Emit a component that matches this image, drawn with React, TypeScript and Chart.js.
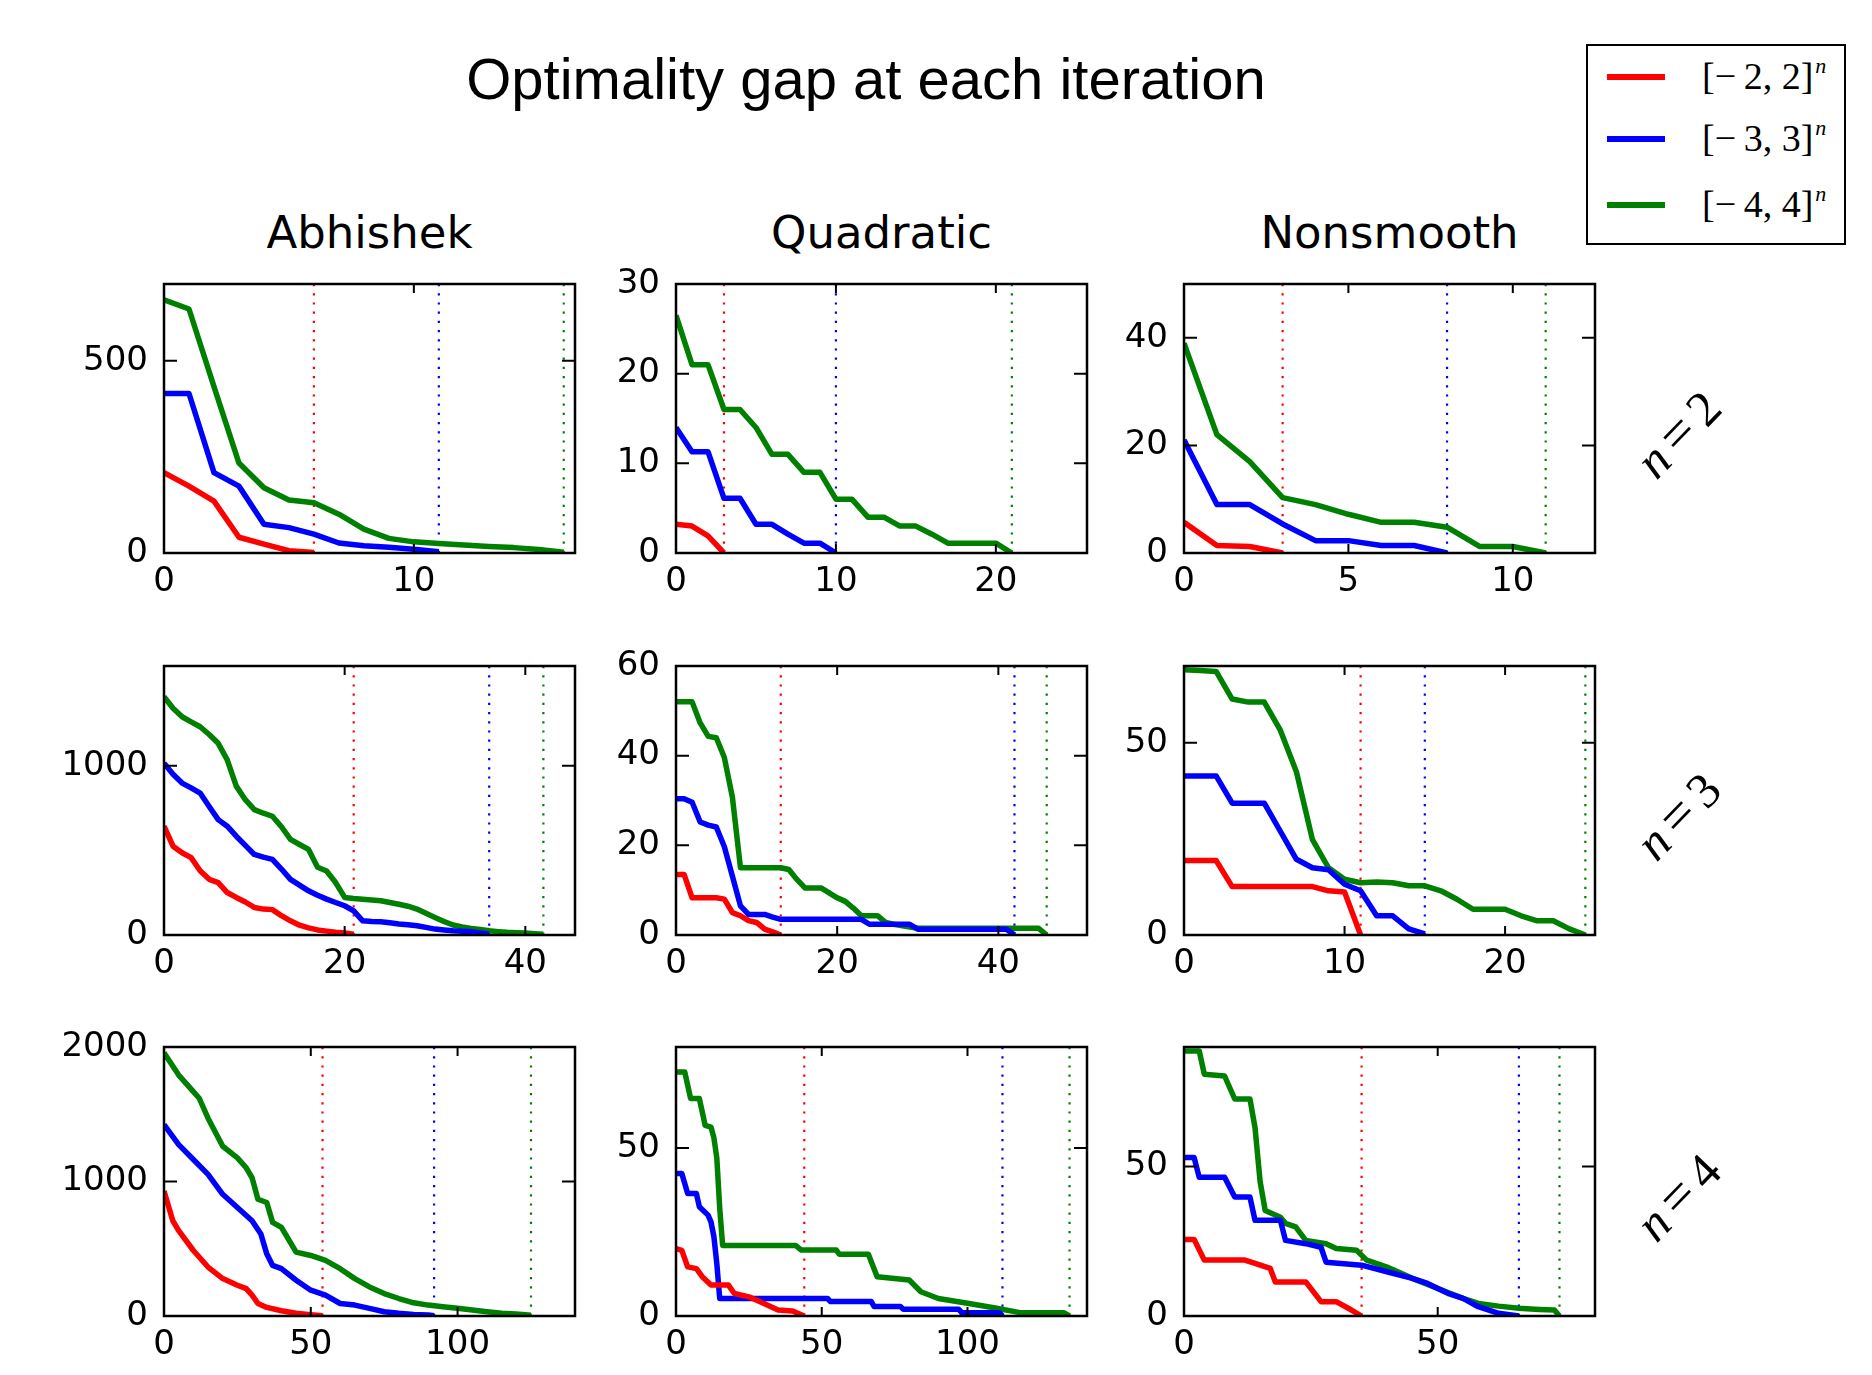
import React, { useEffect, useRef } from 'react';
import { Chart, registerables } from 'chart.js';

Chart.register(...registerables);

// ================= DATA =================
const figureTitle = 'Optimality gap at each iteration';
const columnTitles = ['Abhishek', 'Quadratic', 'Nonsmooth'];
const dimensions = ['2', '3', '4'];
const boxLabels = ['[\u2212\u20092, 2]', '[\u2212\u20093, 3]', '[\u2212\u20094, 4]'];

// A series is either y values per iteration (0,1,2,...) or [iteration, gap] pairs.
// Stops: iteration where each box size terminates (dotted verticals), order: [-2,2], [-3,3], [-4,4]

// ---- Abhishek, n = 2
const abh2Red = [209, 174, 135, 41, 23, 6, 1];
const abh2Blue = [415, 415, 209, 174, 75, 66, 49, 26, 19, 15, 10, 3];
const abh2Green = [659, 635, 433, 234, 170, 138, 131, 101, 62, 38, 29, 25, 21, 17, 14, 9, 2];
const abh2Stops = [6, 11, 16];
const abh2Range = [16.45, 700];
const abh2XTicks = [0, 10];
const abh2YTicks = [0, 500];

// ---- Quadratic, n = 2
const quad2Red = [3.2, 3.0, 1.9, 0];
const quad2Blue = [14, 11.3, 11.3, 6.1, 6.1, 3.2, 3.2, 2.1, 1.1, 1.1, 0];
const quad2Green = [26.5, 21, 21, 16, 16, 14, 11, 11, 9, 9, 6, 6, 4, 4, 3, 3, 2.1, 1.1, 1.1, 1.1, 1.1, 0];
const quad2Stops = [3, 10, 21];
const quad2Range = [25.7, 30];
const quad2XTicks = [0, 10, 20];
const quad2YTicks = [0, 10, 20, 30];

// ---- Nonsmooth, n = 2
const non2Red = [5.7, 1.4, 1.2, 0];
const non2Blue = [21, 9, 9, 5.4, 2.3, 2.3, 1.4, 1.4, 0];
const non2Green = [39, 22, 17, 10.3, 9, 7.2, 5.7, 5.7, 4.8, 1.2, 1.2, 0];
const non2Stops = [3, 8, 11];
const non2Range = [12.5, 50];
const non2XTicks = [0, 5, 10];
const non2YTicks = [0, 20, 40];

// ---- Abhishek, n = 3
const abh3Red = [643, 525, 486, 457, 380, 329, 310, 251, 222, 195, 163, 153, 150, 114, 84, 58, 42, 30, 23, 16, 12, 5];
const abh3Blue = [1016, 950, 898, 870, 839, 760, 682, 643, 584, 530, 476, 460, 447, 390, 329, 295, 261, 235, 212, 192, 173, 143, 84, 80, 78, 72, 65, 60, 55, 45, 35, 30, 25, 22, 20, 12, 6];
const abh3Green = [1408, 1340, 1290, 1260, 1231, 1185, 1133, 1035, 880, 800, 741, 720, 702, 640, 565, 535, 506, 400, 378, 310, 222, 216, 212, 207, 202, 192, 182, 170, 153, 128, 104, 80, 59, 48, 39, 32, 25, 20, 16, 14, 12, 8, 4];
const abh3Stops = [21, 36, 42];
const abh3Range = [45.5, 1590];
const abh3XTicks = [0, 20, 40];
const abh3YTicks = [0, 1000];

// ---- Quadratic, n = 3
const quad3Red = [[0, 13.5], [1, 13.5], [2, 8.3], [5, 8.3], [6, 8.0], [7, 5], [8, 4.3], [9, 3.2], [10, 2.8], [11, 1.3], [12, 0.7], [13, 0]];
const quad3Blue = [[0, 30.4], [1, 30.4], [2, 29.6], [3, 25.2], [4, 24.5], [5, 24.1], [6, 19.7], [7, 13.1], [8, 6.5], [9, 4.6], [11, 4.6], [12, 4.0], [13, 3.5], [23, 3.5], [24, 2.4], [29, 2.4], [30, 1.3], [41, 1.3], [42, 0]];
const quad3Green = [[0, 52], [2, 52], [3, 47.3], [4, 44.3], [5, 44], [6, 39.6], [7, 30.7], [8, 15], [13, 15], [14, 14.6], [15, 12.4], [16, 10.5], [18, 10.5], [19, 9.4], [20, 8.3], [21, 7.5], [22, 6], [23, 4.3], [25, 4.3], [26, 2.8], [27, 2.4], [30, 1.5], [45, 1.5], [46, 0]];
const quad3Stops = [13, 42, 46];
const quad3Range = [51, 60];
const quad3XTicks = [0, 20, 40];
const quad3YTicks = [0, 20, 40, 60];

// ---- Nonsmooth, n = 3
const non3Red = [[0, 19.4], [2, 19.4], [3, 12.6], [8, 12.6], [9, 11.5], [10, 11.2], [11, 0]];
const non3Blue = [[0, 41.4], [2, 41.4], [3, 34.3], [5, 34.3], [6, 27], [7, 19.7], [8, 17.5], [9, 17], [10, 13.2], [11, 11.5], [12, 5], [13, 5], [14, 1.6], [15, 0.3]];
const non3Green = [[0, 69], [1, 68.8], [2, 68.6], [3, 61.4], [4, 60.6], [5, 60.6], [6, 53.3], [7, 42.5], [8, 24.8], [9, 17.5], [10, 14.5], [11, 13.6], [12, 13.8], [13, 13.6], [14, 12.8], [15, 12.8], [16, 11.5], [17, 9.3], [18, 6.7], [20, 6.7], [21, 5], [22, 3.7], [23, 3.7], [24, 1.6], [25, 0]];
const non3Stops = [11, 15, 25];
const non3Range = [25.6, 70];
const non3XTicks = [0, 10, 20];
const non3YTicks = [0, 50];

// ---- Abhishek, n = 4
const abh4Red = [[0, 930], [3, 708], [5, 635], [10, 487], [15, 364], [20, 278], [25, 229], [28, 204], [30, 155], [32, 93], [35, 64], [40, 39], [45, 20], [50, 10], [54, 2]];
const abh4Blue = [[0, 1422], [5, 1274], [10, 1164], [15, 1053], [20, 905], [25, 807], [30, 708], [33, 610], [35, 462], [37, 376], [40, 352], [45, 266], [50, 192], [55, 155], [60, 93], [65, 81], [70, 57], [75, 32], [80, 20], [85, 12], [90, 7], [92, 2]];
const abh4Green = [[0, 1958], [5, 1791], [10, 1668], [12, 1619], [15, 1471], [20, 1262], [25, 1176], [28, 1102], [30, 1028], [32, 868], [35, 844], [37, 696], [40, 659], [45, 475], [50, 450], [55, 413], [60, 352], [65, 278], [70, 216], [75, 167], [80, 130], [85, 98], [90, 81], [95, 69], [100, 57], [105, 44], [110, 32], [115, 20], [120, 15], [125, 5]];
const abh4Stops = [54, 92, 125];
const abh4Range = [140, 2000];
const abh4XTicks = [0, 50, 100];
const abh4YTicks = [0, 1000, 2000];

// ---- Quadratic, n = 4
const quad4Red = [[0, 20], [2, 19.5], [4, 14.6], [7, 14.1], [9, 11.7], [12, 9.2], [18, 9.2], [20, 6.7], [25, 5.7], [30, 3.8], [35, 1.8], [40, 1.5], [44, 0]];
const quad4Blue = [[0, 42.4], [2, 42.4], [4, 36.4], [7, 36.4], [8, 32.5], [11, 30], [12, 28], [13, 23.6], [14, 15.6], [15, 5.2], [52, 5.2], [53, 4.3], [67, 4.3], [68, 2.8], [77, 2.8], [78, 2], [97, 2], [98, 1], [111, 1], [112, 0]];
const quad4Green = [[0, 72.6], [3, 72.6], [5, 64.7], [8, 64.7], [10, 56.7], [12, 56.2], [13, 53], [14, 47], [15, 32], [16, 21], [41, 21], [43, 19.6], [55, 19.6], [56, 18.4], [66, 18.4], [69, 11.7], [80, 10.7], [84, 7.2], [90, 5.2], [100, 3.8], [110, 2.3], [118, 1], [133, 1], [135, 0]];
const quad4Stops = [44, 112, 135];
const quad4Range = [141, 80];
const quad4XTicks = [0, 50, 100];
const quad4YTicks = [0, 50];

// ---- Nonsmooth, n = 4
const non4Red = [[0, 25.6], [2, 25.6], [4, 18.7], [12, 18.7], [14, 17.6], [17, 15.9], [18, 11.4], [24, 11.4], [27, 4.8], [30, 4.8], [33, 2], [35, 0]];
const non4Blue = [[0, 53], [2, 53], [3, 46.4], [8, 46.4], [10, 39.8], [13, 39.8], [14, 32], [19, 32], [20, 25.3], [24, 24.2], [27, 23], [28, 18], [35, 17], [40, 14.8], [45, 12.6], [48, 10.9], [52, 7.6], [55, 5.9], [58, 3.1], [62, 0.9], [66, 0]];
const non4Green = [[0, 88.7], [3, 88.7], [4, 80.9], [8, 80.3], [10, 72.6], [13, 72.6], [14, 63], [15, 45], [16, 35.3], [19, 33], [20, 31], [22, 29.8], [24, 25.3], [28, 24.2], [30, 22.6], [34, 22], [36, 18.7], [40, 16.4], [45, 12.6], [50, 9.2], [55, 5.9], [58, 4.2], [62, 3.3], [66, 2.6], [70, 2.2], [73, 2], [74, 0]];
const non4Stops = [35, 66, 74];
const non4Range = [81, 90];
const non4XTicks = [0, 50];
const non4YTicks = [0, 50];

// ================= LAYOUT / STYLE =================
const COLORS = ['#ff0000', '#0000ff', '#008000'];
const COL_LEFT = [164, 676, 1184];
const ROW_TOP = [284, 666, 1047];
const AX_W = 411;
const AX_H = 269;
const YW = 130; // y-axis band width
const PT = 40; // top padding
const PR = 30; // right padding
const XH = 60; // x-axis band height
const CW = YW + AX_W + PR;
const CH = PT + AX_H + XH;
const LINE_W = 5.5;

type Series = any[];

function toPoints(s: Series) {
  return s.map((v: any, i: number) => (Array.isArray(v) ? { x: v[0], y: v[1] } : { x: i, y: v }));
}

const panels = [
  [
    { series: [abh2Red, abh2Blue, abh2Green], stops: abh2Stops, range: abh2Range, xTicks: abh2XTicks, yTicks: abh2YTicks },
    { series: [quad2Red, quad2Blue, quad2Green], stops: quad2Stops, range: quad2Range, xTicks: quad2XTicks, yTicks: quad2YTicks },
    { series: [non2Red, non2Blue, non2Green], stops: non2Stops, range: non2Range, xTicks: non2XTicks, yTicks: non2YTicks },
  ],
  [
    { series: [abh3Red, abh3Blue, abh3Green], stops: abh3Stops, range: abh3Range, xTicks: abh3XTicks, yTicks: abh3YTicks },
    { series: [quad3Red, quad3Blue, quad3Green], stops: quad3Stops, range: quad3Range, xTicks: quad3XTicks, yTicks: quad3YTicks },
    { series: [non3Red, non3Blue, non3Green], stops: non3Stops, range: non3Range, xTicks: non3XTicks, yTicks: non3YTicks },
  ],
  [
    { series: [abh4Red, abh4Blue, abh4Green], stops: abh4Stops, range: abh4Range, xTicks: abh4XTicks, yTicks: abh4YTicks },
    { series: [quad4Red, quad4Blue, quad4Green], stops: quad4Stops, range: quad4Range, xTicks: quad4XTicks, yTicks: quad4YTicks },
    { series: [non4Red, non4Blue, non4Green], stops: non4Stops, range: non4Range, xTicks: non4XTicks, yTicks: non4YTicks },
  ],
];

const framePlugin = {
  id: 'axesFrame',
  afterDraw(chart: any) {
    const { ctx, chartArea: a, scales } = chart;
    ctx.save();
    ctx.strokeStyle = '#000';
    ctx.lineWidth = 2;
    ctx.beginPath();
    for (const t of scales.x.ticks) {
      const px = scales.x.getPixelForValue(t.value);
      ctx.moveTo(px, a.top);
      ctx.lineTo(px, a.top + 9);
      ctx.moveTo(px, a.bottom);
      ctx.lineTo(px, a.bottom - 9);
    }
    for (const t of scales.y.ticks) {
      const py = scales.y.getPixelForValue(t.value);
      ctx.moveTo(a.left, py);
      ctx.lineTo(a.left + 13, py);
      ctx.moveTo(a.right, py);
      ctx.lineTo(a.right - 13, py);
    }
    ctx.stroke();
    ctx.lineWidth = 2.5;
    ctx.strokeRect(a.left, a.top, a.right - a.left, a.bottom - a.top);
    ctx.restore();
  },
};

function Panel({ p, left, top }: { p: any; left: number; top: number }) {
  const ref = useRef<HTMLCanvasElement | null>(null);
  useEffect(() => {
    if (!ref.current) return;
    const datasets: any[] = [];
    p.stops.forEach((s: number, i: number) => {
      datasets.push({
        data: [
          { x: s, y: 0 },
          { x: s, y: p.range[1] },
        ],
        borderColor: COLORS[i],
        borderWidth: 2.2,
        borderDash: [2.2, 7],
        showLine: true,
        pointRadius: 0,
        order: 10 + i,
      });
    });
    p.series.forEach((s: Series, i: number) => {
      datasets.push({
        data: toPoints(s),
        borderColor: COLORS[i],
        borderWidth: LINE_W,
        showLine: true,
        pointRadius: 0,
        tension: 0,
        borderJoinStyle: 'round',
        order: 1 + i,
      });
    });
    const tickFont = { family: 'DejaVu Sans', size: 34 };
    const chart = new Chart(ref.current, {
      type: 'scatter',
      data: { datasets },
      options: {
        animation: false,
        responsive: false,
        devicePixelRatio: 1,
        layout: { padding: { top: PT, right: PR, left: 0, bottom: 0 } },
        plugins: { legend: { display: false }, tooltip: { enabled: false }, title: { display: false } },
        scales: {
          x: {
            type: 'linear',
            min: 0,
            max: p.range[0],
            grid: { display: false, drawTicks: false },
            border: { display: false },
            ticks: {
              font: tickFont,
              color: '#000',
              padding: 9,
              maxRotation: 0,
              autoSkip: false,
              callback: (v: any) => String(v),
            },
            afterBuildTicks: (s: any) => {
              s.ticks = p.xTicks.map((v: number) => ({ value: v }));
            },
            afterFit: (s: any) => {
              s.height = XH;
            },
          },
          y: {
            type: 'linear',
            min: 0,
            max: p.range[1],
            grid: { display: false, drawTicks: false },
            border: { display: false },
            ticks: {
              font: tickFont,
              color: '#000',
              padding: 16,
              autoSkip: false,
              callback: (v: any) => String(v),
            },
            afterBuildTicks: (s: any) => {
              s.ticks = p.yTicks.map((v: number) => ({ value: v }));
            },
            afterFit: (s: any) => {
              s.width = YW;
            },
          },
        },
      } as any,
      plugins: [framePlugin],
    });
    return () => chart.destroy();
  }, [p]);
  return (
    <canvas
      ref={ref}
      width={CW}
      height={CH}
      style={{ position: 'absolute', left: left - YW, top: top - PT, width: CW, height: CH }}
    />
  );
}

export default function App() {
  const legendLineY = [31, 93, 159];
  const legendTextY = [33, 95, 161];
  return (
    <div
      style={{
        position: 'absolute',
        left: 0,
        top: 0,
        width: 1872,
        height: 1375,
        background: '#fff',
        overflow: 'hidden',
      }}
    >
      <div
        style={{
          position: 'absolute',
          left: 866,
          top: 50,
          transform: 'translateX(-50%)',
          fontFamily: '"Liberation Sans", Arial, sans-serif',
          fontSize: 58,
          lineHeight: 1,
          whiteSpace: 'nowrap',
          color: '#000',
        }}
      >
        {figureTitle}
      </div>
      {columnTitles.map((t, c) => (
        <div
          key={t}
          style={{
            position: 'absolute',
            left: COL_LEFT[c] + AX_W / 2,
            top: 210,
            transform: 'translateX(-50%)',
            fontFamily: '"DejaVu Sans", sans-serif',
            fontSize: 45,
            lineHeight: 1,
            whiteSpace: 'nowrap',
            color: '#000',
          }}
        >
          {t}
        </div>
      ))}
      {dimensions.map((d, r) => (
        <div
          key={d}
          style={{
            position: 'absolute',
            left: 1677,
            top: ROW_TOP[r] + AX_H / 2 + 14,
            transform: 'translate(-50%, -50%) rotate(-46deg)',
            fontFamily: '"Liberation Serif", "DejaVu Serif", serif',
            fontSize: 50,
            lineHeight: 1,
            whiteSpace: 'nowrap',
            color: '#000',
          }}
        >
          <i>n</i>
          <span style={{ margin: '0 0.15em', fontSize: '1.1em' }}>=</span>
          {d}
        </div>
      ))}
      {panels.map((row, r) =>
        row.map((p, c) => <Panel key={`${r}-${c}`} p={p} left={COL_LEFT[c]} top={ROW_TOP[r]} />)
      )}
      <div
        style={{
          position: 'absolute',
          left: 1586,
          top: 44,
          width: 260,
          height: 201,
          border: '2px solid #000',
          boxSizing: 'border-box',
          background: '#fff',
        }}
      >
        {boxLabels.map((lab, i) => (
          <React.Fragment key={lab}>
            <div
              style={{
                position: 'absolute',
                left: 19,
                top: legendLineY[i] - LINE_W / 2,
                width: 58,
                height: LINE_W,
                background: COLORS[i],
              }}
            />
            <div
              style={{
                position: 'absolute',
                left: 114,
                top: legendTextY[i] - 22,
                fontFamily: '"Liberation Serif", serif',
                fontSize: 38,
                lineHeight: 1,
                whiteSpace: 'nowrap',
                color: '#000',
              }}
            >
              {lab}
              <span style={{ fontSize: 22, fontStyle: 'italic', position: 'relative', top: -16, marginLeft: 2 }}>n</span>
            </div>
          </React.Fragment>
        ))}
      </div>
    </div>
  );
}
